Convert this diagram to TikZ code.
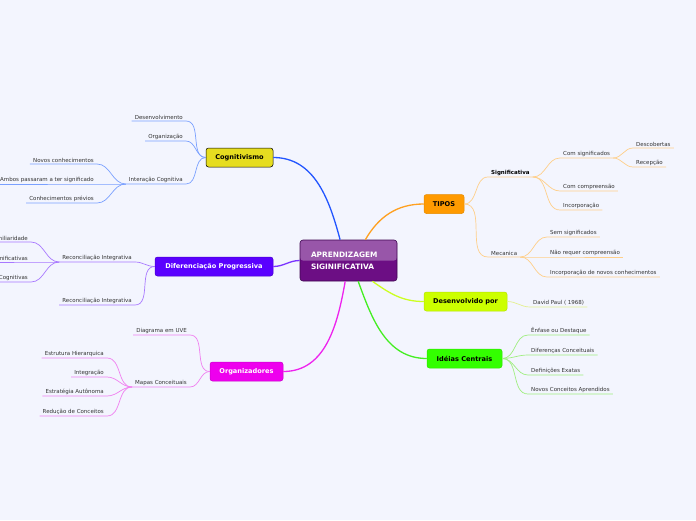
\documentclass[tikz,border=0pt]{standalone}
\usepackage{fontspec}
\setmainfont{DejaVu Sans}
\definecolor{bgc}{HTML}{F3F5FE}
\definecolor{leaftext}{HTML}{333333}
\definecolor{hubfill}{HTML}{6C0E84}
\definecolor{hubline}{HTML}{3E0650}
\definecolor{cogfill}{HTML}{E6DD20}
\definecolor{diffill}{HTML}{5A00FF}
\definecolor{orgfill}{HTML}{EE00EE}
\definecolor{tipfill}{HTML}{FF9A00}
\definecolor{desfill}{HTML}{CCFF00}
\definecolor{idefill}{HTML}{33FF00}
\definecolor{cogline}{HTML}{2255FF}
\definecolor{difline}{HTML}{7A33FF}
\definecolor{orgline}{HTML}{EE22EE}
\definecolor{tipline}{HTML}{FFA020}
\definecolor{desline}{HTML}{CCFF22}
\definecolor{ideline}{HTML}{44EE22}
\definecolor{cogtwig}{HTML}{7AA0FF}
\definecolor{diftwig}{HTML}{A878FF}
\definecolor{orgtwig}{HTML}{F080F0}
\definecolor{tiptwig}{HTML}{FFCF8A}
\definecolor{destwig}{HTML}{E4F090}
\definecolor{idetwig}{HTML}{A0EE80}

\begin{document}
\begin{tikzpicture}[
    x=1pt, y=-1pt,
    hub/.style={rectangle, rounded corners=3pt, minimum width=97pt, minimum height=41pt, text width=75pt, draw=hubline, fill=hubfill, text=white, align=left, font=\fontsize{7.4}{12}\selectfont\bfseries, line width=0.6pt,
        path picture={\fill[white, opacity=0.3] (path picture bounding box.north west) rectangle (path picture bounding box.east);}},
    topic/.style={rectangle, rounded corners=2.5pt, minimum height=19pt, inner xsep=6pt, font=\fontsize{6.6}{7}\selectfont\bfseries, line width=0.5pt},
    leaf/.style={inner xsep=3pt, inner ysep=1.6pt, font=\fontsize{5.5}{6}\selectfont, text=leaftext},
    main/.style={line width=1.3pt},
    twig/.style={line width=0.7pt}
]
\clip (0,0) rectangle (696,520);
\fill[bgc] (0,0) rectangle (696,520);

% central topic and main branches
\node (hub) [hub] at (348.5,260.5) {APRENDIZAGEM\\SIGINIFICATIVA};
\node (cog) [topic, draw=black, fill=cogfill, minimum width=67pt] at (239.5,157.5) {Cognitivismo};
\node (dif) [topic, draw=diffill!80!black, fill=diffill, text=white, minimum width=118pt] at (214,266.5) {Diferenciação Progressiva};
\node (org) [topic, draw=orgfill!85!black, fill=orgfill, text=white, minimum width=73pt] at (246.5,371.5) {Organizadores};
\node (tipos) [topic, draw=tipfill!90!black, fill=tipfill, minimum width=40pt] at (444,204) {TIPOS};
\node (desv) [topic, draw=desfill!90!black, fill=desfill, minimum width=83pt] at (465.5,301.5) {Desenvolvido por};
\node (ideias) [topic, draw=idefill!90!black, fill=idefill, minimum width=75pt] at (464.5,358.5) {Idéias Centrais};

\draw [main, cogline] (hub.112) to[out=105, in=0] (cog.east);
\draw [main, difline] (hub.west) to[out=180, in=0] (dif.east);
\draw [main, orgline] (hub.261) to[out=260, in=0] (org.east);
\draw [main, tipline] (hub.51) to[out=60, in=180] (tipos.west);
\draw [main, desline] (hub.319) to[out=-35, in=180] (desv.west);
\draw [main, ideline] (hub.295) to[out=-70, in=180] (ideias.west);

% Cognitivismo
\node (dvm) [leaf, anchor=south east] at (186,121) {Desenvolvimento};
\node (orgz) [leaf, anchor=south east] at (186,141) {Organização};
\node (icog) [leaf, anchor=south east] at (186,184) {Interação Cognitiva};
\node (novos) [leaf, anchor=south east] at (97,164) {Novos conhecimentos};
\node (ambos) [leaf, anchor=south east] at (97,184) {Ambos passaram a ter significado};
\node (prev) [leaf, anchor=south east] at (97,203) {Conhecimentos prévios};
\draw [twig, cogtwig] (cog.west) to[out=180, in=0] (dvm.south east) -- (dvm.south west);
\draw [twig, cogtwig] (cog.west) to[out=180, in=0] (orgz.south east) -- (orgz.south west);
\draw [twig, cogtwig] (cog.west) to[out=180, in=0] (icog.south east) -- (icog.south west);
\draw [twig, cogtwig] (icog.south west) to[out=180, in=0] (novos.south east) -- (novos.south west);
\draw [twig, cogtwig] (icog.south west) -- (ambos.south east) -- (ambos.south west);
\draw [twig, cogtwig] (icog.south west) to[out=180, in=0] (prev.south east) -- (prev.south west);

% Diferenciacao Progressiva
\node (rec1) [leaf, anchor=south east] at (135,262) {Reconciliação Integrativa};
\node (rec2) [leaf, anchor=south east] at (135,305) {Reconciliação Integrativa};
\node (fam) [leaf, anchor=south east] at (31,242) {miliaridade};
\node (sgn) [leaf, anchor=south east] at (31,262) {nificativas};
\node (ecog) [leaf, anchor=south east] at (31,282) {Cognitivas};
\draw [twig, diftwig] (dif.west) to[out=180, in=0] (rec1.south east) -- (rec1.south west);
\draw [twig, diftwig] (dif.west) to[out=180, in=0] (rec2.south east) -- (rec2.south west);
\draw [twig, diftwig] (rec1.south west) to[out=180, in=0] (fam.south east) -- (fam.south west);
\draw [twig, diftwig] (rec1.south west) -- (sgn.south east) -- (sgn.south west);
\draw [twig, diftwig] (rec1.south west) to[out=180, in=0] (ecog.south east) -- (ecog.south west);

% Organizadores
\node (uve) [leaf, anchor=south east] at (190,335) {Diagrama em UVE};
\node (mapas) [leaf, anchor=south east] at (190,387) {Mapas Conceituais};
\node (hier) [leaf, anchor=south east] at (107,358) {Estrutura Hierarquica};
\node (integ) [leaf, anchor=south east] at (107,377) {Integração};
\node (auto) [leaf, anchor=south east] at (107,396) {Estratégia Autônoma};
\node (reduc) [leaf, anchor=south east] at (107,416) {Redução de Conceitos};
\draw [twig, orgtwig] (org.west) to[out=180, in=0] (uve.south east) -- (uve.south west);
\draw [twig, orgtwig] (org.west) to[out=180, in=0] (mapas.south east) -- (mapas.south west);
\foreach \m in {hier, integ, auto, reduc}
  \draw [twig, orgtwig] (mapas.south west) to[out=180, in=0] (\m.south east) -- (\m.south west);

% TIPOS
\node (sig) [leaf, anchor=south west, font=\fontsize{5.5}{6}\selectfont\bfseries, text=black] at (488,177) {Significativa};
\node (mec) [leaf, anchor=south west] at (488,257) {Mecanica};
\node (comsig) [leaf, anchor=south west] at (560,158) {Com significados};
\node (comp) [leaf, anchor=south west] at (560,191) {Com compreensão};
\node (incorp) [leaf, anchor=south west] at (560,210) {Incorporação};
\node (desc) [leaf, anchor=south west] at (633,148) {Descobertas};
\node (recep) [leaf, anchor=south west] at (633,167) {Recepção};
\node (semsig) [leaf, anchor=south west] at (547,237) {Sem significados};
\node (naoreq) [leaf, anchor=south west] at (547,257) {Não requer compreensão};
\node (incnov) [leaf, anchor=south west] at (547,277) {Incorporação de novos conhecimentos};
\draw [twig, tiptwig] (tipos.east) to[out=0, in=180] (sig.south west) -- (sig.south east);
\draw [twig, tiptwig] (tipos.east) to[out=0, in=180] (mec.south west) -- (mec.south east);
\foreach \s in {comsig, comp, incorp}
  \draw [twig, tiptwig] (sig.south east) to[out=0, in=180] (\s.south west) -- (\s.south east);
\foreach \s in {desc, recep}
  \draw [twig, tiptwig] (comsig.south east) to[out=0, in=180] (\s.south west) -- (\s.south east);
\draw [twig, tiptwig] (mec.south east) to[out=0, in=180] (semsig.south west) -- (semsig.south east);
\draw [twig, tiptwig] (mec.south east) -- (naoreq.south west) -- (naoreq.south east);
\draw [twig, tiptwig] (mec.south east) to[out=0, in=180] (incnov.south west) -- (incnov.south east);

% Desenvolvido por
\node (david) [leaf, anchor=south west] at (530,307) {David Paul ( 1968)};
\draw [twig, destwig] (desv.east) to[out=0, in=180] (david.south west) -- (david.south east);

% Ideias Centrais
\node (enf) [leaf, anchor=south west] at (528,335) {Ênfase ou Destaque};
\node (difc) [leaf, anchor=south west] at (528,355) {Diferenças Conceituais};
\node (defs) [leaf, anchor=south west] at (528,375) {Definições Exatas};
\node (novc) [leaf, anchor=south west] at (528,394) {Novos Conceitos Aprendidos};
\foreach \i in {enf, difc, defs, novc}
  \draw [twig, idetwig] (ideias.east) to[out=0, in=180] (\i.south west) -- (\i.south east);
\end{tikzpicture}
\end{document}
